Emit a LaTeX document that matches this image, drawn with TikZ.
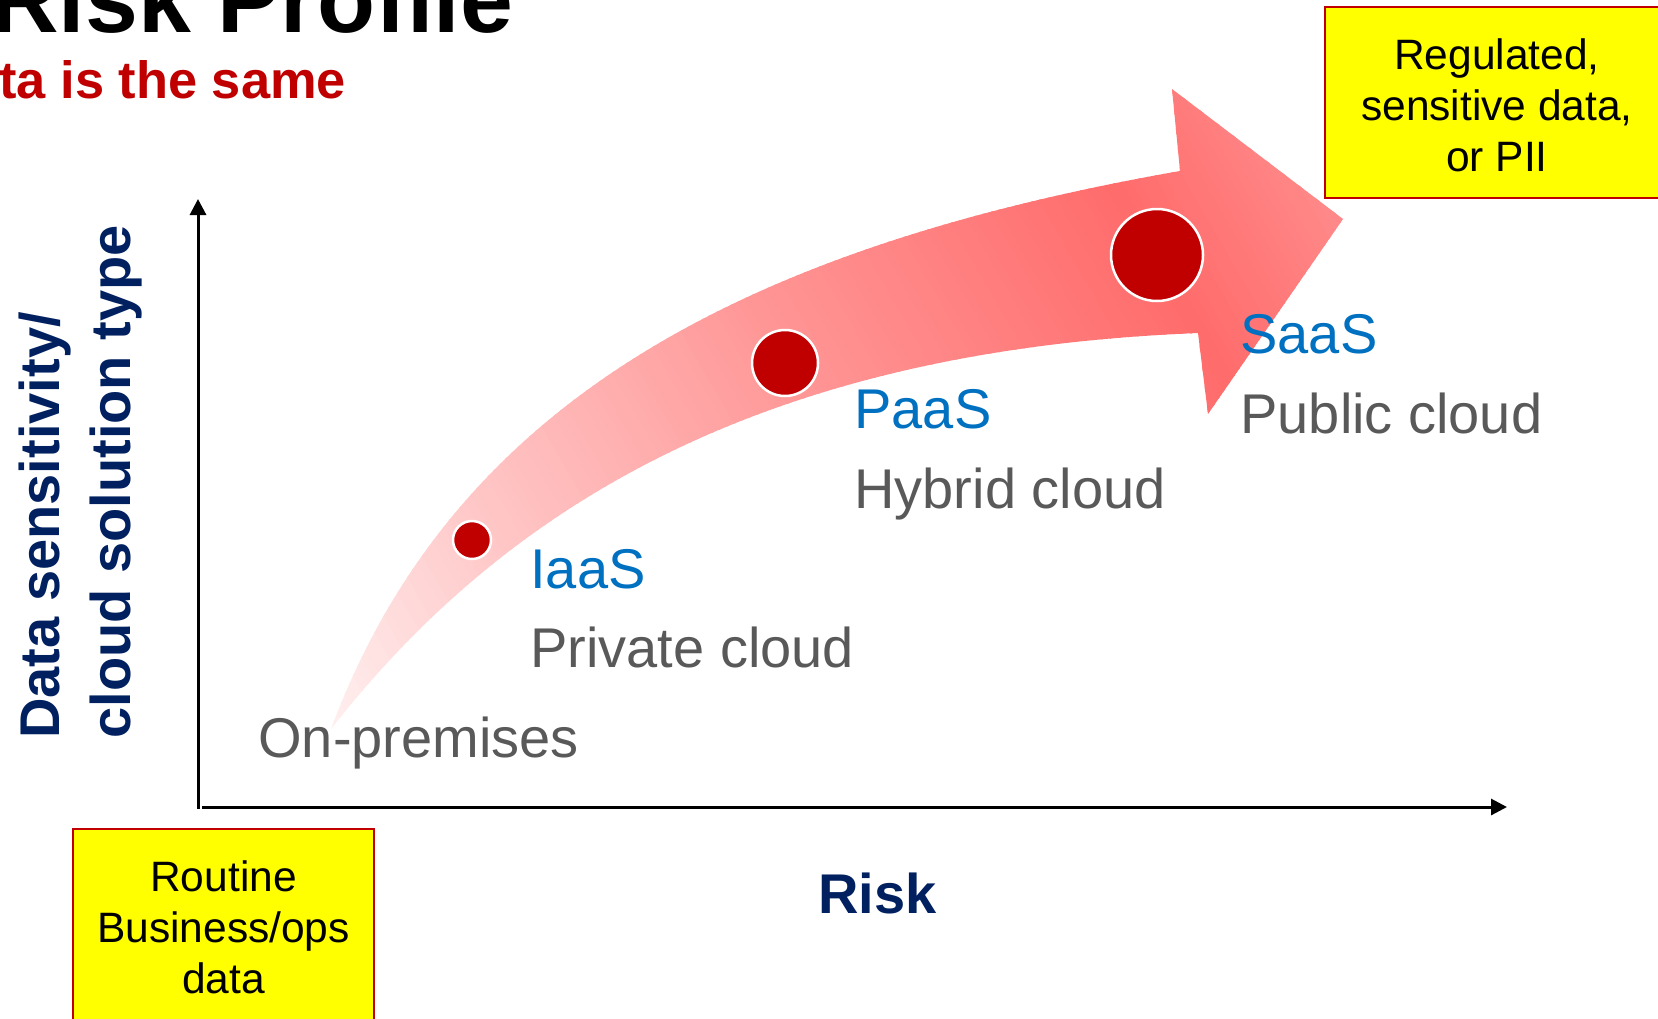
\documentclass[tikz,border=0pt]{standalone}
\usepackage{fontspec}
\setmainfont{Liberation Sans}
\usetikzlibrary{arrows.meta}
\definecolor{navy}{RGB}{0,32,96}
\definecolor{lblue}{RGB}{0,112,192}
\definecolor{lgray}{RGB}{89,89,89}
\definecolor{dkred}{RGB}{192,0,0}
\definecolor{boxyellow}{RGB}{255,255,0}
\begin{document}
\begin{tikzpicture}[x=0.5pt,y=-0.5pt,
  lbl/.style={anchor=base west, inner sep=0pt, font=\fontsize{28}{33}\selectfont},
  svc/.style={lbl, text=lblue},
  env/.style={lbl, text=lgray},
  axlbl/.style={anchor=base west, inner sep=0pt, text=navy, font=\fontsize{28}{33}\selectfont\bfseries},
  dot/.style={circle, fill=dkred, draw=white, line width=1.25pt, inner sep=0pt},
  ybox/.style={draw=dkred, fill=boxyellow, line width=1.2pt, align=center, text=black, inner xsep=0pt},
  axisline/.style={line width=1.5pt, -{Triangle[length=8pt,width=8pt]}}
]
\useasboundingbox (0,0) rectangle (1658,1018);
\fill[white] (0,0) rectangle (1658,1018);

% title
\node[anchor=base west, inner sep=0pt, font=\fontsize{47.5}{57}\selectfont\bfseries] (title) at (-10,32) {Risk Profile};
\node[anchor=base west, inner sep=0pt, text=dkred, font=\fontsize{26.2}{31}\selectfont\bfseries] (subtitle) at (-1,98) {ta is the same};

% curved arrow
\coordinate (tail) at (331,729);
\coordinate (shafttop) at (1180,171);
\coordinate (headtop) at (1172,89);
\coordinate (tip) at (1343,219);
\coordinate (headbot) at (1208,414);
\coordinate (shaftbot) at (1198,333);
\begin{scope}
\clip (tail) .. controls (450,410) and (730,250) .. (shafttop) -- (headtop) -- (tip) -- (headbot) -- (shaftbot) .. controls (770,350) and (510,500) .. (tail) -- cycle;
\foreach \s in {-88,-80,...,1064} {
  \pgfmathtruncatemacro\gv{(\s<150) ? (240-(\s+80)/230*40) : ((\s<500) ? (200-(\s-150)/350*50) : ((\s<870) ? (150-(\s-500)/370*42) : (108+(\s-870)/190*32)))}
  \definecolor{sc}{RGB}{255,\gv,\gv}
  \fill[sc] ({0.866*\s+275},{-0.5*\s+476.3}) -- ({0.866*(\s+10)+275},{-0.5*(\s+10)+476.3}) -- ({0.866*(\s+10)+525},{-0.5*(\s+10)+909.3}) -- ({0.866*\s+525},{-0.5*\s+909.3}) -- cycle;
}
\end{scope}

% circles
\node[dot, minimum size=19pt] (c1) at (472,540) {};
\node[dot, minimum size=33pt] (c2) at (785,363) {};
\node[dot, minimum size=46pt] (c3) at (1157,255) {};

% labels
\node[env] (onprem) at (258,757) {On-premises};
\node[svc] (iaas) at (530,588) {IaaS};
\node[env] (private) at (530,667) {Private cloud};
\node[svc] (paas) at (854,428) {PaaS};
\node[env] (hybrid) at (854,508) {Hybrid cloud};
\node[svc] (saas) at (1240,353) {SaaS};
\node[env] (public) at (1240,433) {Public cloud};

% axes
\coordinate (orig) at (198,809);
\coordinate (ytop) at (198,199);
\coordinate (xstart) at (202,807);
\coordinate (xend) at (1507,807);
\draw[axisline] (orig) -- (ytop);
\draw[axisline] (xstart) -- (xend);

\node[axlbl, rotate=90] (ylab1) at (59,739) {Data sensitivity/};
\node[axlbl, rotate=90] (ylab2) at (130,739) {cloud solution type};
\node[axlbl] (xlab) at (818,913) {Risk};

% boxes
\node[ybox, minimum width=172pt, minimum height=95.5pt, font=\fontsize{21.25}{25.35}\selectfont] (regbox) at (1497,102.5) {\rule{0pt}{18.2pt}Regulated,\\sensitive data,\\or PII};
\node[ybox, anchor=north, minimum width=150.5pt, inner ysep=15.8pt, font=\fontsize{21.25}{25.35}\selectfont] (routine) at (223.5,828) {Routine\\Business/ops\\data};
\end{tikzpicture}
\end{document}
